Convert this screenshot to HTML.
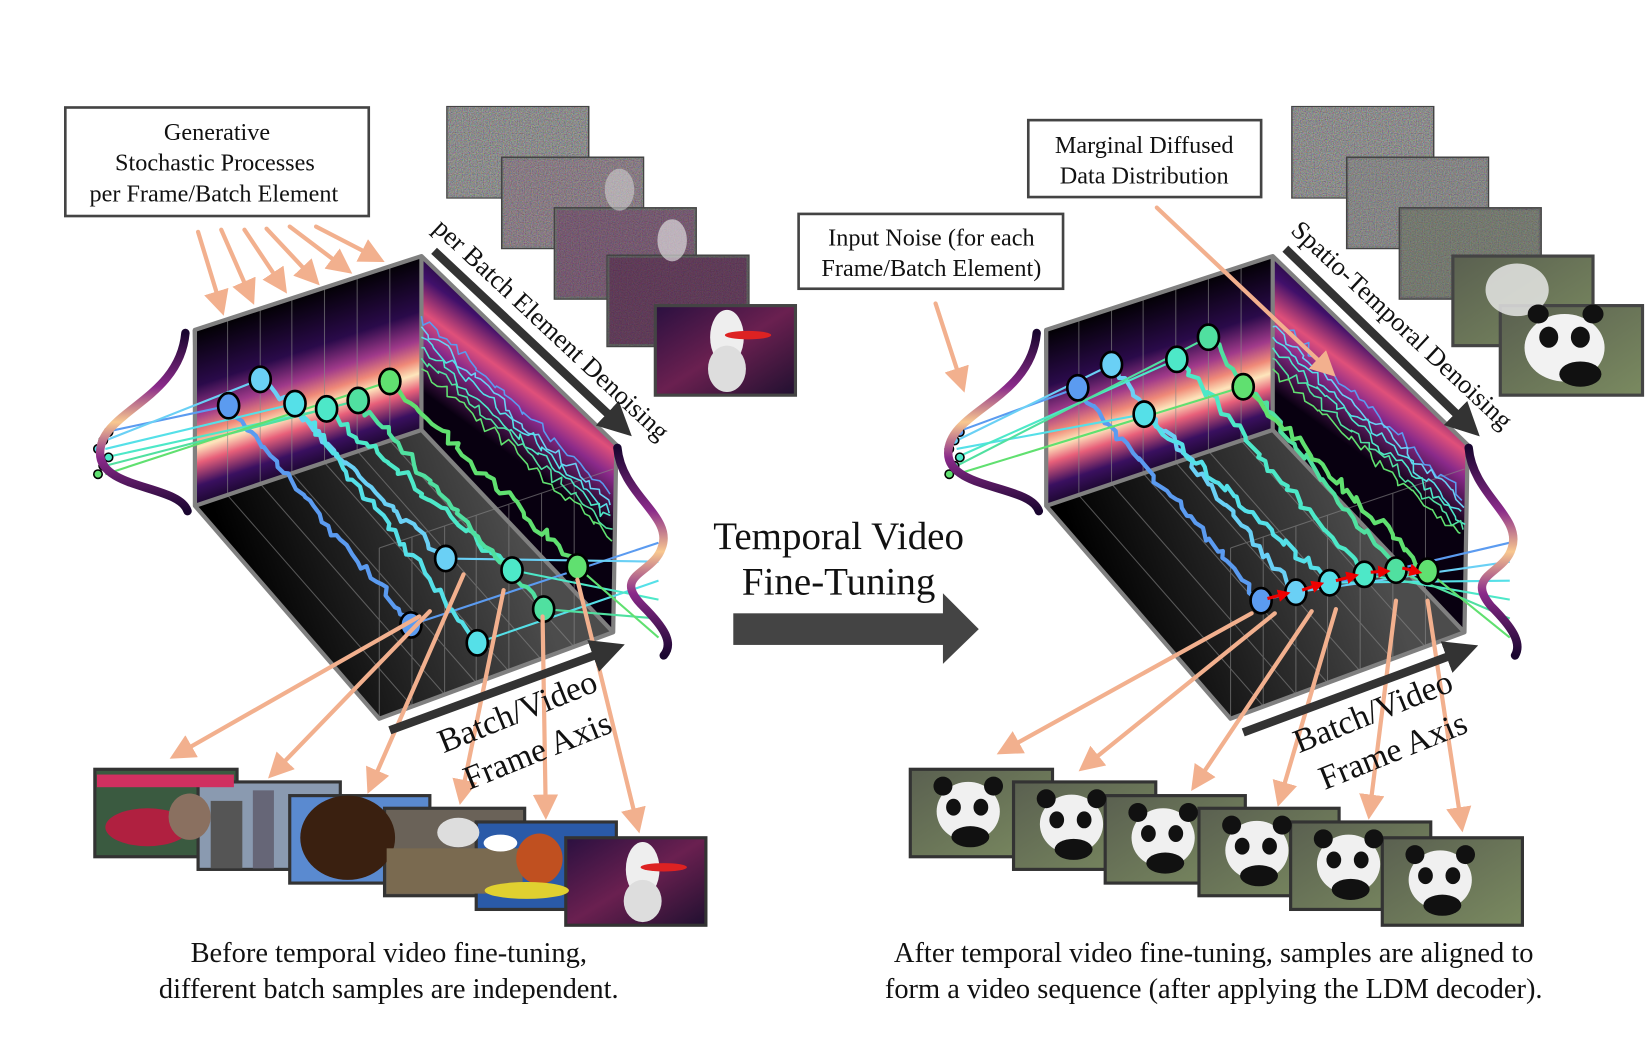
<!DOCTYPE html>
<html><head><meta charset="utf-8"><style>
html,body{margin:0;padding:0;background:#fff;}
svg{display:block;}
text{font-family:"Liberation Serif",serif;fill:#111;}
</style></head><body>
<svg id="s" width="1652" height="1038" viewBox="0 0 1568 985" preserveAspectRatio="none" xmlns="http://www.w3.org/2000/svg">
<defs>
<filter id="nz" x="0" y="0" width="100%" height="100%"><feTurbulence type="fractalNoise" baseFrequency="0.9" numOctaves="2" seed="3"/><feColorMatrix type="matrix" values="0.6 0 0 0 -0.02 0 0.6 0 0 -0.02 0 0 0.6 0 -0.02 0 0 0 0 1"/></filter>
<linearGradient id="bw" gradientUnits="userSpaceOnUse" x1="265" y1="285" x2="320" y2="450">
<stop offset="0" stop-color="#000"/><stop offset="0.3" stop-color="#2a0a4a"/><stop offset="0.45" stop-color="#a03a8a"/><stop offset="0.55" stop-color="#f08a78"/><stop offset="0.62" stop-color="#fde6bc"/><stop offset="0.7" stop-color="#e8607a"/><stop offset="0.82" stop-color="#3a1060"/><stop offset="1" stop-color="#050008"/></linearGradient>
<linearGradient id="rw" gradientUnits="userSpaceOnUse" x1="520" y1="290" x2="440" y2="400">
<stop offset="0" stop-color="#000"/><stop offset="0.35" stop-color="#40106a"/><stop offset="0.55" stop-color="#e0507a"/><stop offset="0.7" stop-color="#8a2a8a"/><stop offset="1" stop-color="#080010"/></linearGradient>
<linearGradient id="fl" gradientUnits="userSpaceOnUse" x1="230" y1="560" x2="480" y2="470">
<stop offset="0" stop-color="#000"/><stop offset="1" stop-color="#555"/></linearGradient>
<linearGradient id="bell" x1="0" y1="0" x2="0" y2="1">
<stop offset="0" stop-color="#1a0630"/><stop offset="0.3" stop-color="#8a2a8a"/><stop offset="0.5" stop-color="#f8c890"/><stop offset="0.7" stop-color="#8a2a8a"/><stop offset="1" stop-color="#1a0630"/></linearGradient>
<linearGradient id="astro" x1="0" y1="0" x2="1" y2="1"><stop offset="0" stop-color="#2a1040"/><stop offset="0.5" stop-color="#6a2050"/><stop offset="1" stop-color="#201030"/></linearGradient>
<linearGradient id="panda" x1="0" y1="0" x2="1" y2="1"><stop offset="0" stop-color="#5a6050"/><stop offset="1" stop-color="#7a8a60"/></linearGradient>
<marker id="oa" markerWidth="6" markerHeight="6" refX="4" refY="3" orient="auto" markerUnits="strokeWidth"><path d="M0,0 L6,3 L0,6 z" fill="#f2b08e"/></marker>
<marker id="ba" markerWidth="4" markerHeight="4" refX="2" refY="2" orient="auto" markerUnits="strokeWidth"><path d="M0,0 L4,2 L0,4 z" fill="#333"/></marker>
<marker id="ra" markerWidth="4" markerHeight="4" refX="3" refY="2" orient="auto" markerUnits="strokeWidth"><path d="M0,0 L4,2 L0,4 z" fill="#e00"/></marker>
<g id="cube">
<polygon points="183,313 400,243 585,422 582,600 360,682 185,480" fill="#000"/>
<polygon points="185,313 400,243 400,408 185,480" fill="url(#bw)"/>
<polygon points="400,243 585,422 582,600 400,408" fill="url(#rw)"/>
<polygon points="185,480 400,408 582,600 360,682" fill="url(#fl)" opacity="0.9"/>
<g stroke="#888" stroke-width="1" opacity="0.6">
<line x1="216" y1="303" x2="216" y2="470"/><line x1="247" y1="293" x2="247" y2="459"/><line x1="277" y1="283" x2="277" y2="449"/><line x1="308" y1="273" x2="308" y2="439"/><line x1="339" y1="263" x2="339" y2="428"/><line x1="370" y1="253" x2="370" y2="418"/>
<line x1="216" y1="470" x2="391" y2="670"/><line x1="247" y1="459" x2="422" y2="659"/><line x1="277" y1="449" x2="452" y2="648"/><line x1="308" y1="439" x2="483" y2="637"/><line x1="339" y1="428" x2="514" y2="626"/><line x1="370" y1="418" x2="545" y2="614"/>
<line x1="360" y1="520" x2="360" y2="680"/><line x1="391" y1="509" x2="391" y2="670"/><line x1="422" y1="499" x2="422" y2="659"/><line x1="452" y1="489" x2="452" y2="648"/><line x1="483" y1="479" x2="483" y2="637"/><line x1="514" y1="468" x2="514" y2="626"/><line x1="545" y1="458" x2="545" y2="614"/>
<line x1="360" y1="520" x2="582" y2="445"/>
</g>
<g fill="none" stroke="#808080" stroke-width="4" stroke-linejoin="round">
<polyline points="185,480 185,313 400,243 585,422 582,600 360,682 185,480 400,408 400,243"/>
<line x1="400" y1="408" x2="582" y2="600"/>
</g>
</g>
</defs>

<use href="#cube"/>
<use href="#cube" transform="translate(808,0)"/>
<g id="traj"></g>

<g fill="none" stroke="url(#bell)" stroke-width="8" stroke-linecap="round">
<path d="M176,316 C170,380 95,390 95,430 C95,465 170,460 178,485"/>
<path d="M586,425 C590,470 640,490 628,520 C620,545 580,545 610,575 C630,595 640,610 630,622"/>
<path d="M984,316 C978,380 900,390 900,430 C900,465 978,460 986,485"/>
<path d="M1394,425 C1398,470 1445,490 1435,520 C1428,545 1390,545 1415,575 C1435,595 1445,610 1438,622"/>
</g>

<rect x="62" y="102" width="288" height="103" fill="#fff" stroke="#444" stroke-width="2.5"/>
<text x="206" y="133" font-size="23" text-anchor="middle">Generative</text>
<text x="204" y="162" font-size="23" text-anchor="middle">Stochastic Processes</text>
<text x="203" y="191" font-size="23" text-anchor="middle">per Frame/Batch Element</text>
<rect x="976" y="114" width="221" height="73" fill="#fff" stroke="#444" stroke-width="2.5"/>
<text x="1086" y="145" font-size="23" text-anchor="middle">Marginal Diffused</text>
<text x="1086" y="174" font-size="23" text-anchor="middle">Data Distribution</text>
<rect x="758" y="203" width="251" height="71" fill="#fff" stroke="#444" stroke-width="2.5"/>
<text x="884" y="233" font-size="23" text-anchor="middle">Input Noise (for each</text>
<text x="884" y="262" font-size="23" text-anchor="middle">Frame/Batch Element)</text>

<g stroke="#444" stroke-width="3">
<rect x="425" y="102" width="133" height="85" fill="#666"/><rect x="425" y="102" width="133" height="85" filter="url(#nz)" opacity="0.9"/>
<rect x="477" y="150" width="133" height="85" fill="#704060" /><rect x="477" y="150" width="133" height="85" filter="url(#nz)" opacity="0.75"/>
<rect x="527" y="198" width="133" height="85" fill="#5a2550"/><rect x="527" y="198" width="133" height="85" filter="url(#nz)" opacity="0.5"/>
<rect x="577" y="243" width="133" height="85" fill="#4a1840"/><rect x="577" y="243" width="133" height="85" filter="url(#nz)" opacity="0.3"/>
<rect x="622" y="290" width="133" height="85" fill="url(#astro)"/>
<rect x="1227" y="102" width="133" height="85" fill="#666"/><rect x="1227" y="102" width="133" height="85" filter="url(#nz)" opacity="0.9"/>
<rect x="1279" y="150" width="133" height="85" fill="#666"/><rect x="1279" y="150" width="133" height="85" filter="url(#nz)" opacity="0.75"/>
<rect x="1329" y="198" width="133" height="85" fill="#5a6250"/><rect x="1329" y="198" width="133" height="85" filter="url(#nz)" opacity="0.5"/>
<rect x="1379" y="243" width="133" height="85" fill="url(#panda)"/>
<rect x="1424" y="290" width="135" height="85" fill="url(#panda)"/>
</g>
<g stroke="none">
<ellipse cx="588" cy="180" rx="14" ry="20" fill="#ddd" opacity="0.5"/>
<ellipse cx="638" cy="228" rx="14" ry="20" fill="#eee" opacity="0.6"/>
<ellipse cx="690" cy="320" rx="16" ry="26" fill="#eee"/><ellipse cx="690" cy="350" rx="18" ry="22" fill="#ddd"/>
<ellipse cx="710" cy="318" rx="22" ry="4" fill="#d22"/>
<ellipse cx="1440" cy="275" rx="30" ry="25" fill="#eee" opacity="0.8"/>
<ellipse cx="1485" cy="330" rx="38" ry="32" fill="#f2f2f2"/><ellipse cx="1470" cy="320" rx="9" ry="10" fill="#111"/><ellipse cx="1500" cy="320" rx="9" ry="10" fill="#111"/><ellipse cx="1460" cy="298" rx="10" ry="9" fill="#111"/><ellipse cx="1512" cy="298" rx="10" ry="9" fill="#111"/><ellipse cx="1500" cy="355" rx="20" ry="12" fill="#111"/>
</g>

<g stroke="#333" stroke-width="3">
<rect x="90" y="730" width="135" height="83" fill="#3a5a40"/>
<rect x="188" y="742" width="135" height="83" fill="#8a9ab0"/>
<rect x="275" y="755" width="133" height="83" fill="#5a8ad0"/>
<rect x="365" y="767" width="133" height="83" fill="#6a6258"/>
<rect x="452" y="780" width="133" height="83" fill="#2a5aa8"/>
<rect x="537" y="795" width="133" height="83" fill="url(#astro)"/>
</g>
<g stroke="none">
<rect x="92" y="735" width="130" height="12" fill="#d03060"/><ellipse cx="140" cy="785" rx="40" ry="18" fill="#b02040"/><ellipse cx="180" cy="775" rx="20" ry="22" fill="#8a7060"/>
<rect x="200" y="760" width="30" height="64" fill="#555"/><rect x="240" y="750" width="20" height="74" fill="#667"/>
<ellipse cx="330" cy="795" rx="45" ry="40" fill="#3a2010"/>
<ellipse cx="435" cy="790" rx="20" ry="14" fill="#ddd"/><rect x="367" y="805" width="129" height="43" fill="#7a6a50"/>
<ellipse cx="512" cy="815" rx="22" ry="24" fill="#c05020"/><ellipse cx="500" cy="845" rx="40" ry="8" fill="#e0d030"/><ellipse cx="475" cy="800" rx="16" ry="8" fill="#fff"/>
<ellipse cx="610" cy="825" rx="16" ry="26" fill="#eee"/><ellipse cx="610" cy="855" rx="18" ry="20" fill="#ddd"/><ellipse cx="630" cy="823" rx="22" ry="4" fill="#d22"/>
</g>
<g stroke="#333" stroke-width="3" fill="url(#panda)">
<rect x="864" y="730" width="135" height="83"/><rect x="962" y="742" width="135" height="83"/><rect x="1049" y="755" width="133" height="83"/><rect x="1138" y="767" width="133" height="83"/><rect x="1225" y="780" width="133" height="83"/><rect x="1312" y="795" width="133" height="83"/>
</g>
<g id="pandas"></g>

<g stroke="#f2b08e" stroke-width="4" marker-end="url(#oa)" fill="none" stroke-linecap="round">
<line x1="188" y1="220" x2="210" y2="292"/><line x1="210" y1="218" x2="238" y2="282"/><line x1="232" y1="218" x2="268" y2="272"/><line x1="253" y1="217" x2="298" y2="265"/><line x1="275" y1="215" x2="328" y2="255"/><line x1="300" y1="215" x2="358" y2="245"/>
<line x1="398" y1="585" x2="168" y2="716"/><line x1="408" y1="580" x2="260" y2="733"/><line x1="440" y1="545" x2="352" y2="746"/><line x1="478" y1="560" x2="438" y2="756"/><line x1="515" y1="585" x2="518" y2="770"/><line x1="548" y1="550" x2="605" y2="783"/>
<line x1="888" y1="288" x2="913" y2="365"/><line x1="1098" y1="197" x2="1262" y2="352"/>
<line x1="1188" y1="582" x2="953" y2="712"/><line x1="1210" y1="582" x2="1030" y2="727"/><line x1="1245" y1="580" x2="1135" y2="744"/><line x1="1268" y1="578" x2="1215" y2="758"/><line x1="1325" y1="570" x2="1300" y2="770"/><line x1="1355" y1="570" x2="1387" y2="782"/>
</g>

<g stroke="#333" stroke-width="8" marker-end="url(#ba)" fill="none">
<line x1="412" y1="238" x2="588" y2="403"/>
<line x1="1220" y1="236" x2="1393" y2="403"/>
<line x1="370" y1="693" x2="578" y2="617"/>
<line x1="1180" y1="695" x2="1388" y2="618"/>
</g>

<text font-size="25" transform="translate(410,218) rotate(43)">per Batch Element Denoising</text>
<text font-size="25" transform="translate(1224,220) rotate(43)">Spatio-Temporal Denoising</text>
<text font-size="32" text-anchor="middle" transform="translate(495,685) rotate(-22)">Batch/Video</text>
<text font-size="32" text-anchor="middle" transform="translate(514,722) rotate(-22)">Frame Axis</text>
<text font-size="32" text-anchor="middle" transform="translate(1307,685) rotate(-22)">Batch/Video</text>
<text font-size="32" text-anchor="middle" transform="translate(1326,722) rotate(-22)">Frame Axis</text>

<text x="796" y="521" font-size="37" text-anchor="middle">Temporal Video</text>
<text x="796" y="564" font-size="37" text-anchor="middle">Fine-Tuning</text>
<rect x="696" y="582" width="200" height="30" fill="#444"/>
<polygon points="895,563 929,597 895,630" fill="#444"/>

<text x="369" y="913" font-size="27" text-anchor="middle">Before temporal video fine-tuning,</text>
<text x="369" y="947" font-size="27" text-anchor="middle">different batch samples are independent.</text>
<text x="1152" y="913" font-size="27" text-anchor="middle">After temporal video fine-tuning, samples are aligned to</text>
<text x="1152" y="947" font-size="27" text-anchor="middle">form a video sequence (after applying the LDM decoder).</text>
</svg>
<script>
(function(){
var NS="http://www.w3.org/2000/svg",g=document.getElementById("traj");
var seed=7;function r(){seed=(seed*16807)%2147483647;return seed/2147483647;}
function el(t,a){var e=document.createElementNS(NS,t);for(var k in a)e.setAttribute(k,a[k]);g.appendChild(e);return e;}
function jag(x1,y1,x2,y2,c,w){var d="M"+x1+","+y1,n=40;for(var i=1;i<=n;i++){var t=i/n;d+=" L"+(x1+(x2-x1)*t+(r()-0.5)*6).toFixed(1)+","+(y1+(y2-y1)*t+(r()-0.5)*10).toFixed(1);}el("path",{d:d,fill:"none",stroke:c,"stroke-width":w,"stroke-linejoin":"round"});}
var cols=["#5b9bf0","#6ad0f5","#55e0e8","#4de8c8","#50e0a0","#60e070"];
var L=[[217,385,390,593],[247,360,423,530],[280,383,453,610],[310,388,486,541],[340,380,516,578],[370,362,548,538]];
var R=[[1023,368,1197,570],[1055,346,1230,562],[1086,393,1262,553],[1117,341,1295,545],[1147,320,1325,541],[1180,367,1355,542]];
function side(S,ox){for(var i=0;i<6;i++){jag(400+ox,300+i*10,580+ox,470+i*8,cols[i],1.5);}
 for(var i=0;i<6;i++){var p=S[i];el("line",{x1:100+ox,y1:410+i*8,x2:p[0],y2:p[1],stroke:cols[i],"stroke-width":2});jag(p[0],p[1],p[2],p[3],cols[i],4);el("line",{x1:p[2],y1:p[3],x2:625+ox,y2:515+i*18,stroke:cols[i],"stroke-width":2});}
 for(var i=0;i<6;i++){var p=S[i];el("ellipse",{cx:p[0],cy:p[1],rx:10,ry:12,fill:cols[i],stroke:"#000","stroke-width":2.5});el("ellipse",{cx:p[2],cy:p[3],rx:10,ry:12,fill:cols[i],stroke:"#000","stroke-width":2.5});el("circle",{cx:103+ox-(i%3)*5,cy:410+i*8,r:4,fill:cols[i],stroke:"#000","stroke-width":1.5});}}
side(L,0);side(R,808);
for(var i=0;i<5;i++){el("line",{x1:R[i][2]+6,y1:R[i][3]-2,x2:R[i+1][2]-8,y2:R[i+1][3]+1,stroke:"#e00","stroke-width":3,"marker-end":"url(#ra)"});}
var pg=document.getElementById("pandas");var pos=[[864,730],[962,742],[1049,755],[1138,767],[1225,780],[1312,795]];
pos.forEach(function(p){var x=p[0]+55,y=p[1]+40;[[0,0,30,28,"#f0f0f0"],[-14,-4,7,8,"#111"],[12,-4,7,8,"#111"],[-24,-24,9,9,"#111"],[24,-24,9,9,"#111"],[2,24,18,10,"#111"]].forEach(function(q){var e=document.createElementNS(NS,"ellipse");e.setAttribute("cx",x+q[0]);e.setAttribute("cy",y+q[1]);e.setAttribute("rx",q[2]);e.setAttribute("ry",q[3]);e.setAttribute("fill",q[4]);pg.appendChild(e);});});
})();
</script>
</body></html>
